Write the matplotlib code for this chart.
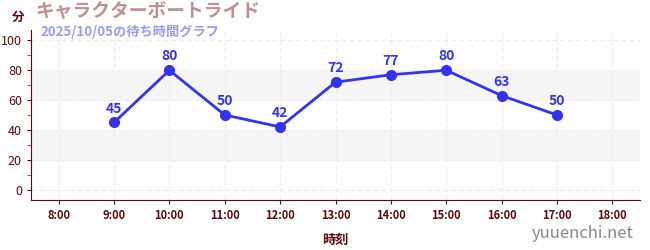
import matplotlib
matplotlib.use("Agg")
import matplotlib.pyplot as plt
from matplotlib.ticker import MultipleLocator

plt.rcParams['font.family'] = ['Noto Sans CJK JP', 'DejaVu Sans']

hours = [9, 10, 11, 12, 13, 14, 15, 16, 17]
waits = [45, 80, 50, 42, 72, 77, 80, 63, 50]
tick_hours = list(range(8, 19))
tick_labels = [f"{h}:00" for h in tick_hours]

title = "キャラクターボートライド"
subtitle = "2025/10/05の待ち時間グラフ"

dark = "#5a0a0a"

fig = plt.figure(figsize=(6.5, 2.5), dpi=100)
ax = fig.add_axes([31 / 650, 50 / 250, 609 / 650, 170 / 250])

ax.set_xlim(7.5, 18.5)
ax.set_ylim(-7, 107)

for lo, hi in [(20, 40), (60, 80)]:
    ax.axhspan(lo, hi, color="#f5f5f5", zorder=0)

ax.set_xticks(tick_hours)
ax.set_xticklabels(tick_labels, fontweight="bold")
ax.set_yticks([0, 20, 40, 60, 80, 100])
ax.yaxis.set_minor_locator(MultipleLocator(10))
ax.grid(True, which="major", color="#ececec", linestyle=(0, (4, 3)), linewidth=0.8, zorder=0)

ax.plot(hours, waits, color="#3333ee", linewidth=2, marker="o", markersize=7, zorder=3)
for h, w in zip(hours, waits):
    ax.annotate(str(w), (h, w), xytext=(0, 5), textcoords="offset points",
                ha="center", va="bottom", color="#3333ee", fontsize=10, fontweight="bold")

for s in ["top", "right"]:
    ax.spines[s].set_visible(False)
for s in ["left", "bottom"]:
    ax.spines[s].set_color(dark)
ax.tick_params(axis="both", colors=dark, length=3)
ax.tick_params(axis="x", labelsize=8)
ax.tick_params(axis="y", which="minor", colors="#cc2222", length=3)
ax.tick_params(axis="y", labelsize=9)

ax.set_xlabel("時刻", color=dark, fontsize=9.5, fontweight="bold", labelpad=8)

fig.text(12 / 650, 1 - 17 / 250, "分", color=dark, fontsize=9, fontweight="bold", va="center")
fig.text(35 / 650, 1 - 12 / 250, title, color="#c09090", fontsize=13.5, fontweight="bold", va="center")
fig.text(40 / 650, 1 - 32 / 250, subtitle, color="#9b9bef", fontsize=9.5, fontweight="bold", va="center")
fig.text(634 / 650, 1 - 234 / 250, "yuuenchi.net", color="#888888", fontsize=12, ha="right", va="center")

fig.savefig("out.png", dpi=100)
